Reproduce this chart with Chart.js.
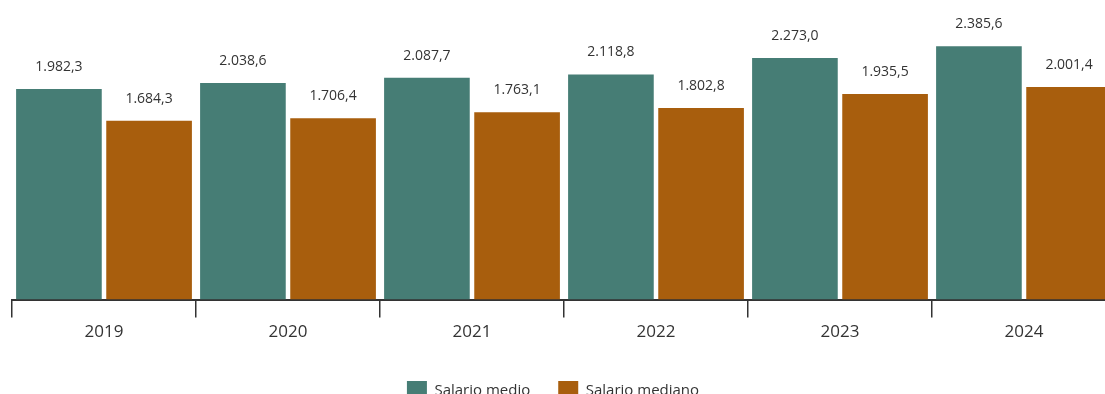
<!DOCTYPE html>
<html>
<head>
<meta charset="utf-8">
<script src="https://cdn.jsdelivr.net/npm/chart.js@4/dist/chart.umd.min.js"></script>
<style>
html,body{margin:0;padding:0;overflow:hidden;background:#fff;width:1105px;height:394px;}
#wrap{position:absolute;left:0;top:0;width:1125px;height:411px;}
</style>
</head>
<body>
<div id="wrap"><canvas id="c"></canvas></div>
<script>
const categories = ['2019','2020','2021','2022','2023','2024'];
const salarioMedio = [1982.3, 2038.6, 2087.7, 2118.8, 2273.0, 2385.6];
const salarioMediano = [1684.3, 1706.4, 1763.1, 1802.8, 1935.5, 2001.4];
const seriesNames = ['Salario medio', 'Salario mediano'];

function fmt(v){
  const s = v.toFixed(1).split('.');
  const int = s[0].replace(/\B(?=(\d{3})+(?!\d))/g, '.');
  return int + ',' + s[1];
}

const labelPlugin = {
  id: 'barLabels',
  afterLayout(chart){
    if (chart.legend) { chart.legend.left -= 11; chart.legend.right -= 11; }
  },
  afterDatasetsDraw(chart){
    const ctx = chart.ctx;
    ctx.save();
    ctx.font = '14px "Open Sans"';
    ctx.fillStyle = '#333';
    ctx.textAlign = 'center';
    ctx.textBaseline = 'middle';
    chart.data.datasets.forEach((ds, i) => {
      chart.getDatasetMeta(i).data.forEach((bar, j) => {
        ctx.fillText(fmt(ds.data[j]), bar.x, bar.y - 22);
      });
    });
    ctx.restore();
  }
};

new Chart(document.getElementById('c'), {
  type: 'bar',
  data: {
    labels: categories,
    datasets: [
      {label: seriesNames[0], data: salarioMedio, backgroundColor: '#467d75', barPercentage: 0.95, categoryPercentage: 0.98},
      {label: seriesNames[1], data: salarioMediano, backgroundColor: '#a85e0d', barPercentage: 0.95, categoryPercentage: 0.98}
    ]
  },
  options: {
    responsive: true,
    maintainAspectRatio: false,
    animation: false,
    layout: {padding: {left: 12, right: 9, top: 0, bottom: 0}},
    plugins: {
      tooltip: {enabled: false},
      legend: {
        position: 'bottom',
        labels: {
          font: {family: '"Open Sans"', size: 15},
          color: '#333',
          boxWidth: 20,
          boxHeight: 20,
          padding: 28
        }
      }
    },
    scales: {
      x: {
        afterFit(scale){ scale.height += 7; },
        grid: {display: true, drawOnChartArea: false, drawTicks: true, tickLength: 18, color: '#333', lineWidth: 1.5, offset: true},
        border: {display: true, color: '#333', width: 2},
        ticks: {font: {family: '"Open Sans"', size: 17}, color: '#333', padding: 4}
      },
      y: {
        display: false,
        min: 0,
        max: 2820
      }
    }
  },
  plugins: [labelPlugin]
});
</script>
</body>
</html>
